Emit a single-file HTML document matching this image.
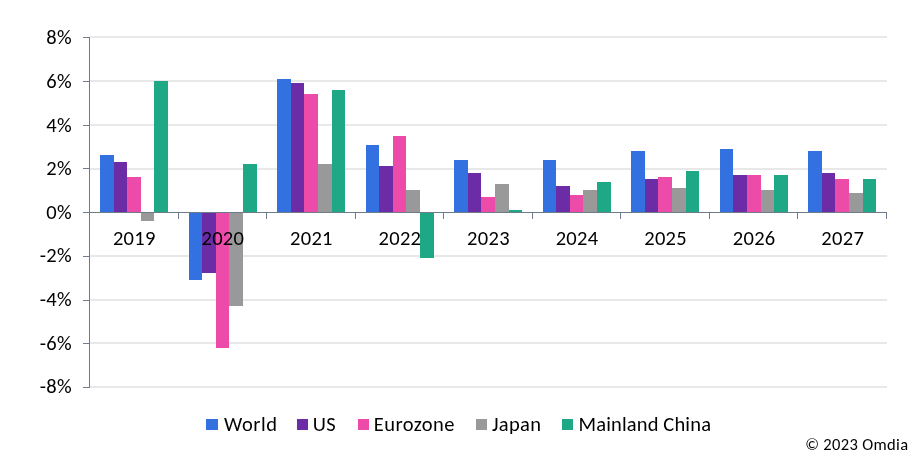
<!DOCTYPE html><html><head><meta charset="utf-8"><title>Chart</title><style>
html,body{margin:0;padding:0;background:#fff;width:910px;height:456px;overflow:hidden;}
svg{display:block;will-change:transform;}
text{font-family:Carlito, "Liberation Sans", sans-serif;fill:#000;}
.t{font-size:20.5px;letter-spacing:0.3px;}
</style></head><body>
<svg width="910" height="456" viewBox="0 0 910 456">
<rect width="910" height="456" fill="#fff"/>
<g fill="#E8E8E8" shape-rendering="crispEdges">
<rect x="90" y="36" width="797" height="2"/>
<rect x="90" y="80" width="797" height="2"/>
<rect x="90" y="124" width="797" height="2"/>
<rect x="90" y="168" width="797" height="2"/>
<rect x="90" y="255" width="797" height="2"/>
<rect x="90" y="299" width="797" height="2"/>
<rect x="90" y="342" width="797" height="2"/>
<rect x="90" y="386" width="797" height="2"/>
</g>
<g shape-rendering="crispEdges">
<rect x="100" y="155" width="14" height="57" fill="#3370E0"/>
<rect x="114" y="162" width="13" height="50" fill="#6B2CA6"/>
<rect x="127" y="177" width="14" height="35" fill="#EC4BAA"/>
<rect x="141" y="212" width="13" height="9" fill="#999999"/>
<rect x="154" y="81" width="14" height="131" fill="#1FA886"/>
<rect x="189" y="212" width="13" height="68" fill="#3370E0"/>
<rect x="202" y="212" width="14" height="61" fill="#6B2CA6"/>
<rect x="216" y="212" width="13" height="136" fill="#EC4BAA"/>
<rect x="229" y="212" width="14" height="94" fill="#999999"/>
<rect x="243" y="164" width="14" height="48" fill="#1FA886"/>
<rect x="277" y="79" width="14" height="133" fill="#3370E0"/>
<rect x="291" y="83" width="13" height="129" fill="#6B2CA6"/>
<rect x="304" y="94" width="14" height="118" fill="#EC4BAA"/>
<rect x="318" y="164" width="14" height="48" fill="#999999"/>
<rect x="332" y="90" width="13" height="122" fill="#1FA886"/>
<rect x="366" y="145" width="13" height="67" fill="#3370E0"/>
<rect x="379" y="166" width="14" height="46" fill="#6B2CA6"/>
<rect x="393" y="136" width="13" height="76" fill="#EC4BAA"/>
<rect x="406" y="190" width="14" height="22" fill="#999999"/>
<rect x="420" y="212" width="14" height="46" fill="#1FA886"/>
<rect x="454" y="160" width="14" height="52" fill="#3370E0"/>
<rect x="468" y="173" width="13" height="39" fill="#6B2CA6"/>
<rect x="481" y="197" width="14" height="15" fill="#EC4BAA"/>
<rect x="495" y="184" width="14" height="28" fill="#999999"/>
<rect x="509" y="210" width="13" height="2" fill="#1FA886"/>
<rect x="543" y="160" width="13" height="52" fill="#3370E0"/>
<rect x="556" y="186" width="14" height="26" fill="#6B2CA6"/>
<rect x="570" y="195" width="13" height="17" fill="#EC4BAA"/>
<rect x="583" y="190" width="14" height="22" fill="#999999"/>
<rect x="597" y="182" width="14" height="30" fill="#1FA886"/>
<rect x="631" y="151" width="14" height="61" fill="#3370E0"/>
<rect x="645" y="179" width="13" height="33" fill="#6B2CA6"/>
<rect x="658" y="177" width="14" height="35" fill="#EC4BAA"/>
<rect x="672" y="188" width="14" height="24" fill="#999999"/>
<rect x="686" y="171" width="13" height="41" fill="#1FA886"/>
<rect x="720" y="149" width="13" height="63" fill="#3370E0"/>
<rect x="733" y="175" width="14" height="37" fill="#6B2CA6"/>
<rect x="747" y="175" width="14" height="37" fill="#EC4BAA"/>
<rect x="761" y="190" width="13" height="22" fill="#999999"/>
<rect x="774" y="175" width="14" height="37" fill="#1FA886"/>
<rect x="808" y="151" width="14" height="61" fill="#3370E0"/>
<rect x="822" y="173" width="13" height="39" fill="#6B2CA6"/>
<rect x="835" y="179" width="14" height="33" fill="#EC4BAA"/>
<rect x="849" y="193" width="14" height="19" fill="#999999"/>
<rect x="863" y="179" width="13" height="33" fill="#1FA886"/>
</g>
<g fill="#6E7B8B" shape-rendering="crispEdges">
<rect x="89" y="37" width="1" height="351"/>
<rect x="83" y="387" width="6" height="1"/>
<rect x="83" y="343" width="6" height="1"/>
<rect x="83" y="300" width="6" height="1"/>
<rect x="83" y="256" width="6" height="1"/>
<rect x="83" y="212" width="6" height="1"/>
<rect x="83" y="168" width="6" height="1"/>
<rect x="83" y="125" width="6" height="1"/>
<rect x="83" y="81" width="6" height="1"/>
<rect x="83" y="37" width="6" height="1"/>
<rect x="83" y="212" width="804" height="1"/>
<rect x="178" y="213" width="1" height="6"/>
<rect x="266" y="213" width="1" height="6"/>
<rect x="355" y="213" width="1" height="6"/>
<rect x="443" y="213" width="1" height="6"/>
<rect x="532" y="213" width="1" height="6"/>
<rect x="620" y="213" width="1" height="6"/>
<rect x="709" y="213" width="1" height="6"/>
<rect x="797" y="213" width="1" height="6"/>
<rect x="886" y="213" width="1" height="6"/>
</g>
<text class="t" x="72" y="44.40" text-anchor="end">8%</text>
<text class="t" x="72" y="88.01" text-anchor="end">6%</text>
<text class="t" x="72" y="131.62" text-anchor="end">4%</text>
<text class="t" x="72" y="175.23" text-anchor="end">2%</text>
<text class="t" x="72" y="218.84" text-anchor="end">0%</text>
<text class="t" x="72" y="262.45" text-anchor="end">-2%</text>
<text class="t" x="72" y="306.06" text-anchor="end">-4%</text>
<text class="t" x="72" y="349.67" text-anchor="end">-6%</text>
<text class="t" x="72" y="393.28" text-anchor="end">-8%</text>
<text class="t" x="134.28" y="244.6" text-anchor="middle">2019</text>
<text class="t" x="222.83" y="244.6" text-anchor="middle">2020</text>
<text class="t" x="311.39" y="244.6" text-anchor="middle">2021</text>
<text class="t" x="399.94" y="244.6" text-anchor="middle">2022</text>
<text class="t" x="488.50" y="244.6" text-anchor="middle">2023</text>
<text class="t" x="577.06" y="244.6" text-anchor="middle">2024</text>
<text class="t" x="665.61" y="244.6" text-anchor="middle">2025</text>
<text class="t" x="754.17" y="244.6" text-anchor="middle">2026</text>
<text class="t" x="842.72" y="244.6" text-anchor="middle">2027</text>
<rect x="206" y="419" width="12" height="11" fill="#3370E0"/>
<text class="t" x="224.0" y="430.6" style="letter-spacing:0.55px">World</text>
<rect x="297" y="419" width="11" height="11" fill="#6B2CA6"/>
<text class="t" x="312.8" y="430.6" style="letter-spacing:0.3px">US</text>
<rect x="358" y="419" width="11" height="11" fill="#EC4BAA"/>
<text class="t" x="373.8" y="430.6" style="letter-spacing:0.45px">Eurozone</text>
<rect x="476" y="419" width="11" height="11" fill="#999999"/>
<text class="t" x="492.0" y="430.6" style="letter-spacing:0.3px">Japan</text>
<rect x="562" y="419" width="11" height="11" fill="#1FA886"/>
<text class="t" x="578.5" y="430.6" style="letter-spacing:0.15px">Mainland China</text>
<text x="908.5" y="449.6" font-size="16.5" letter-spacing="0.35" text-anchor="end">© 2023 Omdia</text>
</svg></body></html>
